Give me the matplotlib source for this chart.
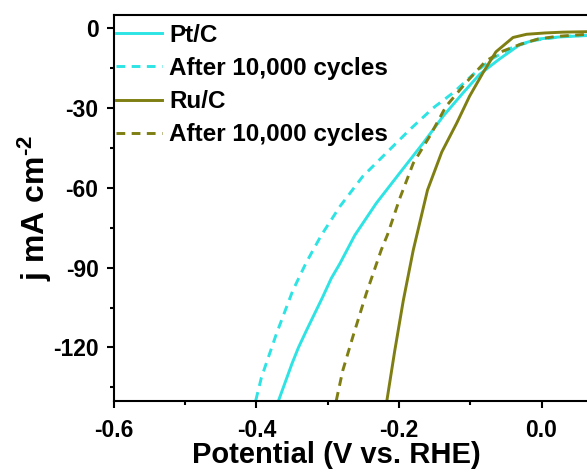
import matplotlib
matplotlib.use('Agg')
import matplotlib.pyplot as plt
from matplotlib.ticker import MultipleLocator

plt.rcParams['font.family'] = 'Liberation Sans'
plt.rcParams['font.weight'] = 'bold'
plt.rcParams['axes.unicode_minus'] = False
plt.rcParams['mathtext.fontset'] = 'custom'
plt.rcParams['mathtext.rm'] = 'Liberation Sans:bold'
plt.rcParams['mathtext.default'] = 'rm'

# LSV polarization curves (potential in V vs. RHE, current density in mA cm-2)
pt_v = [-0.369, -0.350, -0.341, -0.330, -0.307, -0.295, -0.283, -0.262, -0.232, -0.199, -0.166,
        -0.138, -0.110, -0.087, -0.059, -0.030, -0.005, 0.025, 0.070]
pt_j = [-140.0, -126.0, -120.0, -113.7, -101.0, -94.0, -88.5, -77.8, -65.8, -54.4, -43.1,
        -33.0, -24.2, -17.3, -11.5, -6.0, -4.0, -3.2, -2.6]

pt_after_v = [-0.401, -0.393, -0.372, -0.349, -0.330, -0.309, -0.283, -0.251, -0.218, -0.185,
              -0.152, -0.124, -0.096, -0.070, -0.040, -0.010, 0.030, 0.070]
pt_after_j = [-140.0, -131.3, -114.9, -98.6, -88.0, -77.8, -67.0, -55.7, -46.9, -38.1,
              -29.9, -24.2, -17.3, -11.5, -7.0, -4.5, -3.0, -2.5]

ru_v = [-0.217, -0.206, -0.194, -0.180, -0.160, -0.140, -0.119, -0.101, -0.082, -0.064,
        -0.040, -0.021, 0.005, 0.030, 0.070]
ru_j = [-140.0, -121.3, -102.4, -83.4, -60.8, -46.5, -35.6, -25.5, -16.6, -8.8,
        -3.4, -2.2, -1.7, -1.4, -1.2]

ru_after_v = [-0.288, -0.279, -0.265, -0.246, -0.225, -0.216, -0.199, -0.180, -0.157, -0.134,
              -0.106, -0.078, -0.054, -0.030, -0.005, 0.021, 0.070]
ru_after_j = [-140.0, -128.8, -116.2, -99.8, -83.4, -77.5, -64.0, -50.7, -40.6, -29.3,
              -20.4, -12.2, -8.5, -6.0, -4.0, -3.0, -2.1]

cyan = '#2DE3E3'
olive = '#7E7E12'
dash = (0, (3, 2.2))

fig = plt.figure(figsize=(5.87, 4.73), dpi=100)
ax = fig.add_axes([0.194, 0.153, 0.850, 0.815])

ax.plot(pt_v, pt_j, color=cyan, lw=2.1, label='Pt/C')
ax.plot(pt_after_v, pt_after_j, color=cyan, lw=2.1, ls=dash, label='After 10,000 cycles')
ax.plot(ru_v, ru_j, color=olive, lw=2.1, label='Ru/C')
ax.plot(ru_after_v, ru_after_j, color=olive, lw=2.1, ls=dash, label='After 10,000 cycles')

ax.set_xlim(-0.6, 0.1)
ax.set_ylim(-140, 5)
ax.xaxis.set_major_locator(MultipleLocator(0.2))
ax.xaxis.set_minor_locator(MultipleLocator(0.1))
ax.yaxis.set_major_locator(MultipleLocator(30))
ax.yaxis.set_minor_locator(MultipleLocator(15))
ax.tick_params(which='both', direction='out', width=1.5, labelsize=16.5)
ax.tick_params(which='major', length=5, pad=6)
ax.tick_params(which='minor', length=3)
ax.tick_params(axis='x', which='major', pad=8)
for side in ax.spines.values():
    side.set_linewidth(1.5)

ax.set_xlabel('Potential (V vs. RHE)', fontsize=21, fontweight='bold')
ax.set_ylabel(r'j mA cm$^{\text{-2}}$', fontsize=23, fontweight='bold')
ax.xaxis.set_label_coords(0.445, -0.105)
ax.yaxis.set_label_coords(-0.12, 0.5)

ax.legend(loc='upper left', bbox_to_anchor=(0.004, 0.978), frameon=False, fontsize=17.5,
          handlelength=1.9, handletextpad=0.3, labelspacing=0.42,
          borderaxespad=0, borderpad=0)

fig.savefig('out.png', dpi=100)
